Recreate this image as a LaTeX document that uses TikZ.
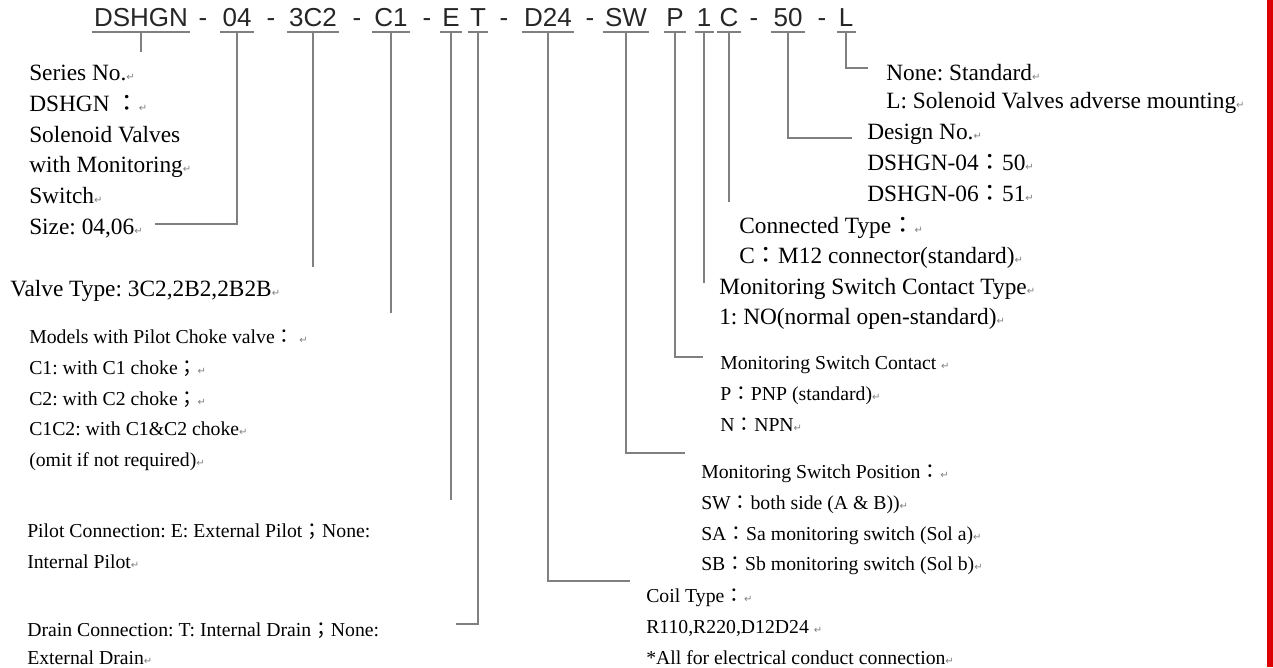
\documentclass[tikz,border=0pt]{standalone}
\usepackage{fontspec}
\setmainfont{Liberation Serif}
\newfontfamily\titlefont{Liberation Sans}
\newfontfamily\cjkfont{Noto Sans CJK TC}
\newfontfamily\symfont{DejaVu Sans}
\usetikzlibrary{calc}
\definecolor{linegray}{RGB}{128,128,128}
\definecolor{edgered}{RGB}{220,0,0}
\frenchspacing
\newcommand{\fc}{{\cjkfont ：}}
\newcommand{\fs}{{\cjkfont ；}}
\newcommand{\retmark}{{\symfont\fontsize{7.5}{7.5}\selectfont\color{gray}↵}}
\newcommand{\bigtxt}{\fontsize{17.5}{23}\selectfont}
\newcommand{\smalltxt}{\fontsize{14.8}{23}\selectfont}
\tikzset{
	part/.style={font=\titlefont\fontsize{19.5}{21}\selectfont, text=black!85, anchor=base, inner sep=0pt},
	uline/.style={draw=linegray, line width=1.1pt},
	conn/.style={draw=linegray, line width=1.4pt},
	block/.style={anchor=north west, inner sep=0pt, align=left},
	bigblock/.style={block, font=\bigtxt},
	smallblock/.style={block, font=\smalltxt}
}
\begin{document}
	\begin{tikzpicture}[x=0.75pt, y=-0.75pt]
	\useasboundingbox (0, 0) rectangle (1273, 667);
	\fill[edgered] (1267, 0) rectangle (1273, 667);
	% model code
	\node[part] (sn) at (141, 27) {DSHGN};
	\node[part] (sz) at (237, 27) {04};
	\node[part] (vt) at (313, 27) {3C2};
	\node[part] (ch) at (391, 27) {C1};
	\node[part] (pe) at (451, 27) {E};
	\node[part] (dt) at (478, 27) {T};
	\node[part] (co) at (548, 27) {D24};
	\node[part] (sw) at (626, 27) {SW};
	\node[part] (pp) at (675, 27) {P};
	\node[part] (ct) at (704, 27) {1};
	\node[part] (cc) at (729, 27) {C};
	\node[part] (dn) at (788, 27) {50};
	\node[part] (ml) at (846, 27) {L};
	\foreach \x [count=\i] in {203, 271, 357, 427, 504, 590, 754, 822}
		\node[part] (d\i) at (\x, 27) {-};
	\foreach \p in {sn, sz, vt, ch, pe, dt, co, sw, pp, ct, cc, dn, ml} {
		\draw[uline] ($(\p.base west)+(-2, 5)$) -- ($(\p.base east)+(2, 5)$);
		\coordinate (\p-t) at ($(\p.base)+(0, 5)$);
	}
	% left column
	\node[bigblock] (series) at (29, 65) {Series No.\retmark\\DSHGN \fc\retmark\\Solenoid Valves\\with Monitoring\retmark\\Switch\retmark};
	\node[bigblock] (size) at (29, 219) {Size: 04,06\retmark};
	\node[bigblock] (valve) at (10, 280) {Valve Type: 3C2,2B2,2B2B\retmark};
	\node[smallblock] (models) at (29, 330) {Models with Pilot Choke valve\fc\ \retmark\\C1: with C1 choke\fs\retmark\\C2: with C2 choke\fs\retmark\\C1C2: with C1\&C2 choke\retmark\\(omit if not required)\retmark};
	\node[smallblock] (pilot) at (27, 524) {Pilot Connection: E: External Pilot\fs None:\\Internal Pilot\retmark};
	\node[smallblock, font=\fontsize{14.8}{21}\selectfont] (drain) at (27, 623) {Drain Connection: T: Internal Drain\fs None:\\External Drain\retmark};
	% right column
	\node[bigblock, font=\fontsize{17.5}{21}\selectfont] (mount) at (886, 64) {None: Standard\retmark\\L: Solenoid Valves adverse mounting\retmark};
	\node[bigblock] (design) at (867, 124) {Design No.\retmark\\DSHGN-04\fc 50\retmark\\DSHGN-06\fc 51\retmark};
	\node[bigblock, font=\fontsize{17.5}{22.5}\selectfont] (conn) at (739, 217) {Connected Type\fc\retmark\\C\fc M12 connector(standard)\retmark};
	\node[bigblock, font=\fontsize{17.5}{22.5}\selectfont] (ctype) at (719, 278) {Monitoring Switch Contact Type\retmark\\1: NO(normal open-standard)\retmark};
	\node[smallblock] (contact) at (720, 356) {Monitoring Switch Contact \retmark\\P\fc PNP (standard)\retmark\\N\fc NPN\retmark};
	\node[smallblock] (swpos) at (701, 465) {Monitoring Switch Position\fc\retmark\\SW\fc both side (A \& B))\retmark\\SA\fc Sa monitoring switch (Sol a)\retmark\\SB\fc Sb monitoring switch (Sol b)\retmark};
	\node[smallblock] (coil) at (646, 589) {Coil Type\fc\retmark\\R110,R220,D12D24 \retmark\\*All for electrical conduct connection\retmark};
	% leaders
	\draw[conn] (sn-t) -- ++(0, 20);
	\draw[conn] (sz-t) |- ($(size.east)+(12, -5)$);
	\draw[conn] (vt-t) -- ($(vt-t |- valve.north)+(0, -13)$);
	\draw[conn] (ch-t) -- ($(ch-t |- models.north)+(0, -17)$);
	\draw[conn] (pe-t) -- ($(pe-t |- pilot.north)+(0, -24)$);
	\draw[conn] (dt-t) |- ($(drain.north east)+(77, 1)$);
	\draw[conn] (co-t) |- ($(coil.north west)+(-16, -8)$);
	\draw[conn] (sw-t) |- ($(swpos.north west)+(-16, -12)$);
	\draw[conn] (pp-t) |- ($(contact.north west)+(-17, 1)$);
	\draw[conn] (ct-t) -- ($(ct-t |- ctype.north)+(0, 5)$);
	\draw[conn] (cc-t) -- ($(cc-t |- conn.north)+(0, -15)$);
	\draw[conn] (dn-t) |- ($(design.north west)+(-15, 14)$);
	\draw[conn] (ml-t) |- ($(mount.north west)+(-18, 4)$);
	\end{tikzpicture}
\end{document}
